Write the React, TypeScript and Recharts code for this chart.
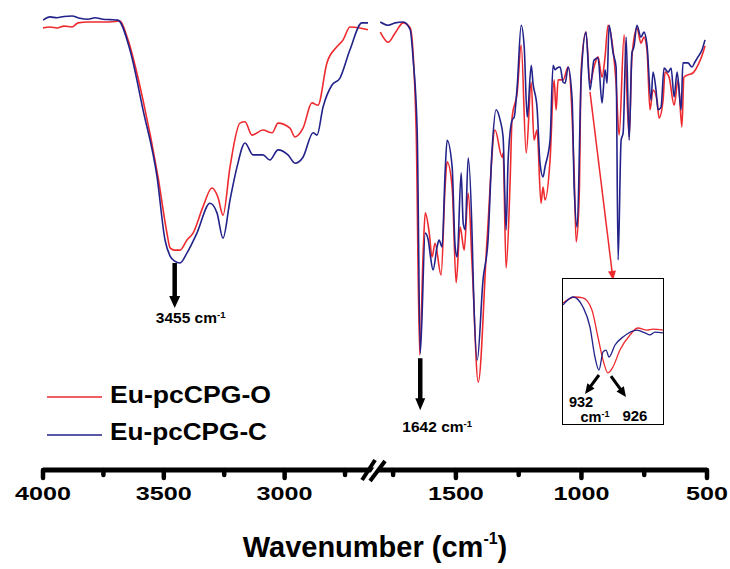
import { LineChart, Line, XAxis, YAxis, ReferenceLine, ReferenceDot, Legend } from "recharts"

// [wavenumber cm-1, transmittance a.u.]
const oHigh: [number, number][] = [
  [4000, 96.1], [3971, 96.3], [3942, 96.1], [3913, 96.5], [3880, 96.3], [3855, 97.2], [3814, 97.4], [3764, 97.4],
  [3723, 97.4], [3681, 97.6], [3652, 94.1], [3586, 80.4], [3524, 63.7], [3487, 51.5], [3474, 48.3], [3455, 47.8],
  [3433, 47.8], [3404, 50.0], [3379, 51.5], [3338, 57.2], [3301, 61.3], [3276, 59.3], [3255, 55.4], [3226, 65.9],
  [3185, 75.4], [3164, 75.7], [3135, 72.8], [3090, 73.9], [3052, 73.3], [3027, 75.4], [2978, 74.3], [2957, 72.4],
  [2924, 74.3], [2887, 79.8], [2862, 79.3], [2825, 88.5], [2784, 92.0], [2758, 93.5], [2730, 96.3], [2688, 96.1],
  [2655, 95.7],
]
const cHigh: [number, number][] = [
  [4000, 97.8], [3971, 98.5], [3942, 98.3], [3913, 98.6], [3880, 98.7], [3847, 98.2], [3814, 98.0], [3785, 98.3],
  [3752, 98.0], [3723, 97.9], [3690, 97.8], [3640, 91.3], [3586, 78.3], [3528, 63.7], [3495, 50.0], [3474, 46.5],
  [3455, 45.4], [3433, 45.0], [3404, 47.2], [3363, 51.5], [3309, 58.0], [3280, 55.9], [3255, 50.4], [3226, 58.7],
  [3197, 65.9], [3164, 71.1], [3131, 68.5], [3090, 68.5], [3061, 67.4], [3027, 69.6], [2986, 68.5], [2957, 66.7],
  [2924, 68.0], [2882, 73.3], [2866, 72.8], [2841, 78.9], [2804, 83.7], [2771, 85.2], [2730, 91.3], [2680, 97.2],
  [2655, 97.2],
]
const oLow: [number, number][] = [
  [1801, 95.2], [1770, 93.0], [1742, 95.0], [1710, 97.2], [1682, 96.1], [1670, 90.2], [1658, 73.3], [1644, 25.0],
  [1630, 47.8], [1622, 55.9], [1606, 51.5], [1595, 46.3], [1583, 49.3], [1559, 42.4], [1543, 61.5], [1535, 67.0],
  [1515, 61.5], [1499, 40.7], [1483, 52.8], [1467, 47.8], [1451, 60.2], [1435, 44.1], [1411, 19.1], [1376, 50.0],
  [1344, 73.9], [1316, 68.0], [1312, 68.9], [1300, 43.9], [1284, 63.0], [1276, 76.7], [1256, 82.0], [1240, 92.4],
  [1220, 68.9], [1200, 84.3], [1189, 71.7], [1177, 73.9], [1161, 58.0], [1153, 61.5], [1145, 58.7], [1125, 67.4],
  [1109, 84.8], [1101, 78.3], [1093, 84.8], [1073, 84.8], [1053, 87.6], [1037, 76.7], [1029, 64.6], [1021, 49.6],
  [1009, 59.3], [1001, 87.0], [982, 95.2], [966, 84.1], [950, 87.6], [934, 89.8], [918, 85.4], [906, 89.8],
  [894, 96.7], [874, 91.3], [862, 84.1], [850, 72.8], [830, 94.6], [810, 72.4], [799, 89.8], [779, 96.1],
  [763, 92.8], [751, 94.1], [739, 91.3], [727, 78.3], [715, 82.6], [699, 80.4], [691, 76.5], [675, 80.4],
  [667, 86.5], [651, 85.4], [631, 79.3], [615, 84.8], [600, 74.6], [592, 85.4], [576, 85.9], [556, 86.3],
  [536, 88.0], [516, 90.7], [508, 92.2],
]
const cLow: [number, number][] = [
  [1801, 97.4], [1770, 96.7], [1742, 97.2], [1710, 97.4], [1682, 95.7], [1670, 89.1], [1654, 73.3], [1642, 25.4],
  [1622, 51.5], [1610, 50.0], [1602, 46.7], [1591, 43.5], [1575, 48.5], [1567, 50.0], [1555, 48.5], [1543, 64.6],
  [1535, 71.7], [1515, 65.9], [1503, 48.5], [1495, 46.3], [1479, 64.6], [1471, 53.7], [1463, 52.2], [1451, 67.8],
  [1435, 50.0], [1431, 41.3], [1415, 23.9], [1392, 41.3], [1372, 50.0], [1356, 69.6], [1340, 78.3], [1324, 76.1],
  [1312, 72.4], [1300, 52.2], [1292, 67.4], [1276, 76.1], [1268, 76.7], [1256, 83.3], [1240, 96.7], [1228, 92.0],
  [1216, 76.7], [1200, 88.0], [1193, 84.1], [1177, 78.9], [1165, 66.7], [1153, 63.7], [1145, 65.9], [1125, 71.7],
  [1113, 88.0], [1105, 87.0], [1097, 87.4], [1085, 87.6], [1073, 84.3], [1065, 84.1], [1053, 87.6], [1037, 80.4],
  [1029, 61.5], [1017, 52.8], [1001, 85.4], [982, 95.2], [966, 82.6], [950, 89.1], [934, 89.6], [918, 79.8],
  [906, 87.0], [898, 84.1], [890, 96.7], [874, 90.7], [862, 87.6], [854, 45.7], [842, 71.7], [834, 73.3],
  [822, 94.1], [810, 71.7], [799, 90.7], [791, 92.0], [779, 96.7], [763, 94.1], [751, 95.2], [739, 92.4],
  [723, 80.4], [715, 86.5], [703, 82.6], [695, 78.3], [683, 78.9], [671, 87.4], [655, 86.5], [643, 87.4],
  [631, 81.1], [619, 86.5], [603, 78.3], [596, 88.5], [576, 88.5], [560, 87.6], [548, 88.7], [536, 89.8],
  [520, 91.3], [508, 93.5],
]

// inset zoom around 930 cm-1
const oInset: [number, number][] = [
  [956, 83.4], [948, 87.6], [942.7, 86.9], [936.7, 78.6], [932.7, 60.0], [929.3, 44.1], [926, 35.2], [922.7, 39.3],
  [918, 51.0], [911.3, 61.4], [906, 66.2], [900, 64.8], [896, 65.5], [889.3, 64.8],
]
const cInset: [number, number][] = [
  [956, 82.1], [949.3, 87.6], [942.7, 80.7], [938, 66.9], [934.7, 46.2], [932, 37.2], [929.3, 49.7], [927.3, 51.0],
  [925.3, 46.2], [921.3, 54.5], [916, 60.0], [906.7, 64.8], [901.3, 62.8], [898, 61.4], [894.7, 63.4], [889.3, 62.8],
]

const seriesNames = ["Eu-pcCPG-O", "Eu-pcCPG-C"]
const seriesColors = ["#ee2a2e", "#22228a"]
const axisTicks = [4000, 3750, 3500, 3250, 3000, 2750, 1750, 1500, 1250, 1000, 750, 500]

const FONT = "'Liberation Sans', Arial, sans-serif"

// broken axis: high range kept as is, low range shifted/stretched to sit after the break
const toP = (wn: number) => (wn >= 2000 ? wn : 732.4 + 1.0392 * wn)
const fromP = (p: number) => Math.round(p > 2600 ? p : (p - 732.4) / 1.0392)
const BREAK_P = 2634

const build = (hi: [number, number][], lo: [number, number][]) => [
  ...hi.map(([wn, v]) => ({ p: toP(wn), v })),
  { p: BREAK_P, v: null },
  ...lo.map(([wn, v]) => ({ p: toP(wn), v })),
]
const oData = build(oHigh, oLow)
const cData = build(cHigh, cLow)
const oInsetData = oInset.map(([wn, v]) => ({ wn, v }))
const cInsetData = cInset.map(([wn, v]) => ({ wn, v }))

function arrowShape(opts: {
  color: string
  width: number
  headLen: number
  headW: number
  texts?: { dx: number; dy: number; text: string; size: number; sup?: boolean }[]
}) {
  return (props: any) => {
    const { x1, y1, x2, y2 } = props
    const dx = x2 - x1
    const dy = y2 - y1
    const len = Math.sqrt(dx * dx + dy * dy) || 1
    const ux = dx / len
    const uy = dy / len
    const bx = x2 - ux * opts.headLen
    const by = y2 - uy * opts.headLen
    const nx = -uy * (opts.headW / 2)
    const ny = ux * (opts.headW / 2)
    return (
      <g>
        <line x1={x1} y1={y1} x2={bx + ux} y2={by + uy} stroke={opts.color} strokeWidth={opts.width} />
        <polygon points={`${x2},${y2} ${bx + nx},${by + ny} ${bx - nx},${by - ny}`} fill={opts.color} />
        {(opts.texts || []).map((t, i) => (
          <text
            key={i}
            x={x2 + t.dx}
            y={y2 + t.dy}
            textAnchor="middle"
            fontFamily={FONT}
            fontWeight="bold"
            fontSize={t.size}
            fill="#000"
          >
            {t.text}
            {t.sup && (
              <tspan fontSize={t.size * 0.62} dy={-t.size * 0.34}>
                -1
              </tspan>
            )}
          </text>
        ))}
      </g>
    )
  }
}

function AxisTick({ x, y, payload }: any) {
  const wn = fromP(payload.value)
  const major = wn % 500 === 0
  return (
    <g>
      <line x1={x} y1={y} x2={x} y2={y + (major ? 8 : 5)} stroke="#000" strokeWidth={4.5} strokeLinecap="round" />
      {major && (
        <text
          x={x}
          y={y + 30}
          textAnchor="middle"
          fontFamily={FONT}
          fontWeight="bold"
          fontSize={19}
          textLength={wn >= 1000 ? 56 : 42}
          lengthAdjust="spacingAndGlyphs"
          fill="#000"
        >
          {wn}
        </text>
      )}
    </g>
  )
}

function AxisTitle(props: any) {
  const vb = props.viewBox || { x: 43, y: 470, width: 664 }
  return (
    <text x={vb.x + vb.width / 2} y={vb.y + 87} textAnchor="middle" fontFamily={FONT} fontWeight="bold" fontSize={29} fill="#000">
      Wavenumber (cm
      <tspan fontSize={16} dy={-13}>
        -1
      </tspan>
      <tspan dy={13}>)</tspan>
    </text>
  )
}

function BreakMark(props: any) {
  const { cx, cy } = props
  return (
    <g>
      <polygon points={`${cx - 7},${cy + 10} ${cx + 6},${cy - 10} ${cx + 11},${cy - 10} ${cx - 2},${cy + 10}`} fill="#fff" />
      <line x1={cx - 11} y1={cy + 10} x2={cx + 2} y2={cy - 10} stroke="#000" strokeWidth={4} />
      <line x1={cx - 3} y1={cy + 11} x2={cx + 12} y2={cy - 9} stroke="#000" strokeWidth={4} />
    </g>
  )
}

function LegendBox() {
  return (
    <svg width={280} height={75}>
      {seriesNames.map((name, i) => (
        <g key={name}>
          <line x1={7} x2={62} y1={22 + i * 38} y2={22 + i * 38} stroke={seriesColors[i]} strokeWidth={1.6} />
          <text
            x={70}
            y={28 + i * 37}
            fontFamily={FONT}
            fontWeight="bold"
            fontSize={23}
            textLength={i === 0 ? 161 : 157}
            lengthAdjust="spacingAndGlyphs"
            fill="#000"
          >
            {name}
          </text>
        </g>
      ))}
    </svg>
  )
}

export default function App() {
  return (
    <div style={{ position: "absolute", left: 0, top: 0, width: 730, height: 569, background: "#fff" }}>
      <LineChart width={730} height={569} margin={{ top: 10, right: 23, left: 43, bottom: 0 }}>
        <XAxis
          type="number"
          dataKey="p"
          domain={[1252, 4000]}
          reversed
          allowDataOverflow
          ticks={axisTicks.map(toP)}
          interval={0}
          tick={<AxisTick />}
          tickLine={false}
          tickSize={0}
          tickMargin={0}
          axisLine={{ stroke: "#000", strokeWidth: 5 }}
          height={99}
          label={{ content: (p: any) => <AxisTitle {...p} /> }}
        />
        <YAxis hide type="number" domain={[0, 100]} allowDataOverflow />
        <Line
          data={oData}
          dataKey="v"
          name={seriesNames[0]}
          stroke={seriesColors[0]}
          strokeWidth={1.6}
          dot={false}
          type="monotone"
          isAnimationActive={false}
        />
        <Line
          data={cData}
          dataKey="v"
          name={seriesNames[1]}
          stroke={seriesColors[1]}
          strokeWidth={1.6}
          dot={false}
          type="monotone"
          isAnimationActive={false}
        />
        <ReferenceLine
          segment={[{ x: toP(3455), y: 45.0 }, { x: toP(3455), y: 35.2 }]}
          ifOverflow="visible"
          shape={arrowShape({ color: "#000", width: 4.5, headLen: 12, headW: 11, texts: [{ dx: 16, dy: 15, text: "3455 cm", size: 15.5, sup: true }] })}
        />
        <ReferenceLine
          segment={[{ x: toP(1642), y: 24.3 }, { x: toP(1642), y: 13.0 }]}
          ifOverflow="visible"
          shape={arrowShape({ color: "#000", width: 4.5, headLen: 12, headW: 10, texts: [{ dx: 17, dy: 22, text: "1642 cm", size: 15.5, sup: true }] })}
        />
        <ReferenceLine
          segment={[{ x: toP(966), y: 82.2 }, { x: toP(874), y: 41.3 }]}
          ifOverflow="visible"
          shape={arrowShape({ color: "#ee2a2e", width: 1.5, headLen: 9, headW: 8 })}
        />
        <ReferenceDot x={BREAK_P} y={0} r={0} ifOverflow="visible" shape={<BreakMark />} />
        <Legend
          layout="vertical"
          align="center"
          verticalAlign="middle"
          wrapperStyle={{ left: 40, top: 375, width: 280, height: 75 }}
          content={() => <LegendBox />}
        />
      </LineChart>

      <div style={{ position: "absolute", left: 563, top: 279, width: 100, height: 145, background: "#fff", outline: "1.5px solid #000" }}>
        <LineChart width={100} height={157} margin={{ top: 0, right: 0, left: 0, bottom: 12 }}>
          <XAxis hide type="number" dataKey="wn" domain={[889.3, 956]} reversed allowDataOverflow />
          <YAxis hide type="number" domain={[0, 100]} allowDataOverflow />
          <Line data={oInsetData} dataKey="v" stroke={seriesColors[0]} strokeWidth={1.3} dot={false} type="monotone" isAnimationActive={false} />
          <Line data={cInsetData} dataKey="v" stroke={seriesColors[1]} strokeWidth={1.3} dot={false} type="monotone" isAnimationActive={false} />
          <ReferenceLine
            segment={[{ x: 932, y: 33.8 }, { x: 941.3, y: 20.7 }]}
            ifOverflow="visible"
            shape={arrowShape({
              color: "#000",
              width: 3,
              headLen: 10,
              headW: 9,
              texts: [
                { dx: -4, dy: 13, text: "932", size: 14.5 },
                { dx: 10, dy: 28, text: "cm", size: 14.5, sup: true },
              ],
            })}
          />
          <ReferenceLine
            segment={[{ x: 924, y: 33.1 }, { x: 914, y: 18.6 }]}
            ifOverflow="visible"
            shape={arrowShape({ color: "#000", width: 3, headLen: 10, headW: 9, texts: [{ dx: 9, dy: 24, text: "926", size: 15 }] })}
          />
        </LineChart>
      </div>
    </div>
  )
}
